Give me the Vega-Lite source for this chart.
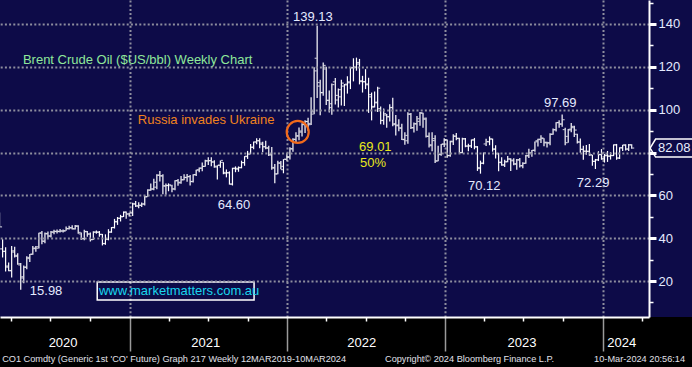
{
  "$schema": "https://vega.github.io/schema/vega-lite/v6.json",
  "width": 649,
  "height": 317,
  "autosize": {"type": "none"},
  "padding": {"left": 0, "top": 0, "right": 43, "bottom": 50},
  "background": "#000000",
  "config": {
    "view": {"fill": "#0d0b48", "stroke": null},
    "font": "Liberation Sans",
    "text": {"font": "Liberation Sans"}
  },
  "resolve": {"axis": {"y": "independent"}},
  "datasets": {
    "ohlc": [
      {"d":"2020-03-06","o":50.5,"h":52.0,"l":45.2,"c":45.3},
      {"d":"2020-03-13","o":35.0,"h":39.5,"l":31.0,"c":33.9},
      {"d":"2020-03-20","o":33.8,"h":35.8,"l":24.5,"c":27.0},
      {"d":"2020-03-27","o":26.5,"h":28.6,"l":24.6,"c":24.9},
      {"d":"2020-04-03","o":24.8,"h":36.3,"l":21.65,"c":34.1},
      {"d":"2020-04-10","o":33.5,"h":36.0,"l":31.0,"c":31.5},
      {"d":"2020-04-17","o":32.0,"h":33.0,"l":27.6,"c":28.1},
      {"d":"2020-04-24","o":27.5,"h":28.4,"l":15.98,"c":21.4},
      {"d":"2020-05-01","o":22.0,"h":27.2,"l":19.0,"c":26.4},
      {"d":"2020-05-08","o":26.5,"h":31.6,"l":25.5,"c":31.0},
      {"d":"2020-05-15","o":30.5,"h":32.6,"l":28.9,"c":32.5},
      {"d":"2020-05-22","o":32.5,"h":36.4,"l":32.3,"c":35.1},
      {"d":"2020-05-29","o":35.4,"h":36.4,"l":33.7,"c":35.3},
      {"d":"2020-06-05","o":36.0,"h":42.5,"l":35.2,"c":42.3},
      {"d":"2020-06-12","o":42.5,"h":43.4,"l":37.2,"c":38.7},
      {"d":"2020-06-19","o":38.5,"h":42.6,"l":37.6,"c":42.2},
      {"d":"2020-06-26","o":42.0,"h":43.1,"l":40.0,"c":41.0},
      {"d":"2020-07-03","o":41.0,"h":43.3,"l":40.3,"c":42.8},
      {"d":"2020-07-10","o":42.9,"h":43.9,"l":41.8,"c":43.2},
      {"d":"2020-07-17","o":43.1,"h":44.0,"l":42.2,"c":43.1},
      {"d":"2020-07-24","o":43.2,"h":44.3,"l":42.7,"c":43.3},
      {"d":"2020-07-31","o":43.4,"h":44.0,"l":42.6,"c":43.3},
      {"d":"2020-08-07","o":43.5,"h":45.4,"l":43.5,"c":44.4},
      {"d":"2020-08-14","o":44.5,"h":45.8,"l":44.1,"c":44.8},
      {"d":"2020-08-21","o":44.9,"h":46.0,"l":44.0,"c":44.35},
      {"d":"2020-08-28","o":44.4,"h":46.2,"l":44.0,"c":45.8},
      {"d":"2020-09-04","o":45.5,"h":46.0,"l":42.1,"c":42.7},
      {"d":"2020-09-11","o":42.0,"h":42.6,"l":39.2,"c":39.8},
      {"d":"2020-09-18","o":39.8,"h":43.9,"l":39.0,"c":43.15},
      {"d":"2020-09-25","o":43.0,"h":43.3,"l":40.7,"c":41.9},
      {"d":"2020-10-02","o":42.0,"h":42.7,"l":38.4,"c":39.3},
      {"d":"2020-10-09","o":39.4,"h":43.2,"l":39.2,"c":42.85},
      {"d":"2020-10-16","o":42.8,"h":43.6,"l":42.1,"c":42.9},
      {"d":"2020-10-23","o":42.7,"h":43.3,"l":40.7,"c":41.8},
      {"d":"2020-10-30","o":41.7,"h":42.0,"l":36.6,"c":37.5},
      {"d":"2020-11-06","o":37.5,"h":41.8,"l":36.9,"c":39.45},
      {"d":"2020-11-13","o":39.5,"h":44.2,"l":39.0,"c":42.8},
      {"d":"2020-11-20","o":42.9,"h":45.2,"l":42.5,"c":44.96},
      {"d":"2020-11-27","o":45.0,"h":49.0,"l":44.5,"c":47.8},
      {"d":"2020-12-04","o":47.6,"h":49.9,"l":46.2,"c":49.25},
      {"d":"2020-12-11","o":49.3,"h":50.9,"l":47.8,"c":50.0},
      {"d":"2020-12-18","o":50.1,"h":52.5,"l":49.9,"c":52.26},
      {"d":"2020-12-24","o":52.0,"h":52.5,"l":49.1,"c":51.3},
      {"d":"2020-12-31","o":51.3,"h":51.9,"l":50.1,"c":51.8},
      {"d":"2021-01-08","o":51.8,"h":56.5,"l":50.4,"c":55.99},
      {"d":"2021-01-15","o":56.0,"h":57.4,"l":54.5,"c":55.1},
      {"d":"2021-01-22","o":55.0,"h":56.8,"l":54.0,"c":55.4},
      {"d":"2021-01-29","o":55.3,"h":56.6,"l":54.6,"c":55.9},
      {"d":"2021-02-05","o":56.0,"h":59.8,"l":55.3,"c":59.3},
      {"d":"2021-02-12","o":59.4,"h":62.8,"l":59.3,"c":62.4},
      {"d":"2021-02-19","o":62.5,"h":65.5,"l":62.1,"c":62.9},
      {"d":"2021-02-26","o":63.0,"h":67.7,"l":62.4,"c":66.1},
      {"d":"2021-03-05","o":63.8,"h":69.8,"l":62.9,"c":69.4},
      {"d":"2021-03-12","o":69.4,"h":71.4,"l":66.5,"c":69.2},
      {"d":"2021-03-19","o":69.0,"h":69.9,"l":60.5,"c":64.5},
      {"d":"2021-03-26","o":64.3,"h":65.5,"l":60.3,"c":64.6},
      {"d":"2021-04-01","o":64.6,"h":65.6,"l":61.9,"c":64.9},
      {"d":"2021-04-09","o":64.5,"h":64.9,"l":61.5,"c":62.95},
      {"d":"2021-04-16","o":63.0,"h":67.1,"l":62.4,"c":66.8},
      {"d":"2021-04-23","o":66.9,"h":67.6,"l":64.5,"c":66.1},
      {"d":"2021-04-30","o":65.8,"h":69.0,"l":65.4,"c":67.25},
      {"d":"2021-05-07","o":67.3,"h":69.8,"l":67.0,"c":68.3},
      {"d":"2021-05-14","o":68.4,"h":70.0,"l":66.4,"c":68.7},
      {"d":"2021-05-21","o":68.8,"h":69.5,"l":64.6,"c":66.4},
      {"d":"2021-05-28","o":66.5,"h":69.8,"l":66.0,"c":69.6},
      {"d":"2021-06-04","o":69.7,"h":72.0,"l":69.0,"c":71.9},
      {"d":"2021-06-11","o":71.8,"h":73.0,"l":70.8,"c":72.7},
      {"d":"2021-06-18","o":72.7,"h":75.3,"l":71.2,"c":73.5},
      {"d":"2021-06-25","o":73.5,"h":76.6,"l":73.3,"c":76.2},
      {"d":"2021-07-02","o":76.0,"h":77.8,"l":74.2,"c":76.2},
      {"d":"2021-07-09","o":76.2,"h":77.8,"l":73.6,"c":75.55},
      {"d":"2021-07-16","o":75.6,"h":76.4,"l":72.9,"c":73.6},
      {"d":"2021-07-23","o":73.2,"h":74.1,"l":67.4,"c":74.1},
      {"d":"2021-07-30","o":74.0,"h":76.3,"l":72.9,"c":76.3},
      {"d":"2021-08-06","o":75.4,"h":75.5,"l":69.9,"c":70.7},
      {"d":"2021-08-13","o":70.2,"h":72.1,"l":68.4,"c":70.6},
      {"d":"2021-08-20","o":70.5,"h":71.2,"l":65.0,"c":65.2},
      {"d":"2021-08-27","o":65.3,"h":72.9,"l":64.6,"c":72.7},
      {"d":"2021-09-03","o":72.5,"h":73.5,"l":70.8,"c":72.6},
      {"d":"2021-09-10","o":72.2,"h":73.5,"l":71.0,"c":72.9},
      {"d":"2021-09-17","o":73.0,"h":76.2,"l":72.6,"c":75.3},
      {"d":"2021-09-24","o":75.3,"h":78.3,"l":73.8,"c":78.1},
      {"d":"2021-10-01","o":78.3,"h":80.75,"l":77.0,"c":79.3},
      {"d":"2021-10-08","o":79.3,"h":84.0,"l":79.2,"c":82.4},
      {"d":"2021-10-15","o":82.5,"h":85.1,"l":81.5,"c":84.9},
      {"d":"2021-10-22","o":84.9,"h":86.7,"l":83.8,"c":85.5},
      {"d":"2021-10-29","o":85.5,"h":86.7,"l":82.0,"c":84.4},
      {"d":"2021-11-05","o":83.8,"h":85.0,"l":80.1,"c":82.7},
      {"d":"2021-11-12","o":82.7,"h":85.5,"l":81.5,"c":82.2},
      {"d":"2021-11-19","o":82.0,"h":83.1,"l":78.4,"c":78.9},
      {"d":"2021-11-26","o":79.0,"h":82.6,"l":72.0,"c":72.7},
      {"d":"2021-12-03","o":73.0,"h":74.6,"l":65.7,"c":69.9},
      {"d":"2021-12-10","o":70.1,"h":76.1,"l":69.9,"c":75.15},
      {"d":"2021-12-17","o":75.0,"h":76.0,"l":72.2,"c":73.5},
      {"d":"2021-12-23","o":72.0,"h":76.9,"l":70.3,"c":76.85},
      {"d":"2021-12-31","o":76.8,"h":79.8,"l":76.2,"c":77.8},
      {"d":"2022-01-07","o":78.0,"h":82.4,"l":76.7,"c":81.75},
      {"d":"2022-01-14","o":81.7,"h":86.7,"l":80.4,"c":86.06},
      {"d":"2022-01-21","o":86.2,"h":89.5,"l":84.8,"c":87.9},
      {"d":"2022-01-28","o":87.6,"h":91.7,"l":85.7,"c":90.03},
      {"d":"2022-02-04","o":89.5,"h":93.7,"l":87.5,"c":93.27},
      {"d":"2022-02-11","o":93.0,"h":95.0,"l":89.1,"c":94.44},
      {"d":"2022-02-18","o":94.5,"h":96.2,"l":90.1,"c":93.54},
      {"d":"2022-02-25","o":93.0,"h":105.8,"l":92.8,"c":97.93},
      {"d":"2022-03-04","o":99.0,"h":119.8,"l":97.9,"c":118.11},
      {"d":"2022-03-11","o":124.0,"h":139.13,"l":105.5,"c":112.67},
      {"d":"2022-03-18","o":111.0,"h":114.0,"l":97.4,"c":107.93},
      {"d":"2022-03-25","o":108.0,"h":122.0,"l":106.5,"c":120.65},
      {"d":"2022-04-01","o":119.0,"h":120.0,"l":102.2,"c":104.39},
      {"d":"2022-04-08","o":104.3,"h":108.9,"l":98.7,"c":102.78},
      {"d":"2022-04-14","o":101.0,"h":112.2,"l":97.6,"c":111.7},
      {"d":"2022-04-22","o":113.0,"h":114.8,"l":102.4,"c":106.65},
      {"d":"2022-04-29","o":104.5,"h":109.9,"l":101.0,"c":109.34},
      {"d":"2022-05-06","o":106.0,"h":114.0,"l":102.0,"c":112.39},
      {"d":"2022-05-13","o":111.0,"h":112.0,"l":101.7,"c":111.55},
      {"d":"2022-05-20","o":111.9,"h":115.6,"l":107.5,"c":112.55},
      {"d":"2022-05-27","o":113.0,"h":119.9,"l":109.6,"c":119.43},
      {"d":"2022-06-03","o":119.7,"h":124.0,"l":113.2,"c":119.72},
      {"d":"2022-06-10","o":119.9,"h":124.3,"l":118.2,"c":122.01},
      {"d":"2022-06-17","o":121.3,"h":123.7,"l":111.8,"c":113.12},
      {"d":"2022-06-24","o":113.5,"h":115.8,"l":108.0,"c":113.12},
      {"d":"2022-07-01","o":113.0,"h":118.9,"l":109.6,"c":111.63},
      {"d":"2022-07-08","o":112.0,"h":114.9,"l":98.5,"c":107.02},
      {"d":"2022-07-15","o":106.0,"h":108.0,"l":95.0,"c":101.16},
      {"d":"2022-07-22","o":101.5,"h":108.5,"l":101.0,"c":103.2},
      {"d":"2022-07-29","o":103.5,"h":110.7,"l":98.9,"c":110.01},
      {"d":"2022-08-05","o":100.5,"h":101.5,"l":93.2,"c":94.92},
      {"d":"2022-08-12","o":95.0,"h":100.5,"l":93.0,"c":98.15},
      {"d":"2022-08-19","o":97.5,"h":98.0,"l":91.5,"c":96.72},
      {"d":"2022-08-26","o":96.7,"h":102.5,"l":94.5,"c":100.99},
      {"d":"2022-09-02","o":101.0,"h":105.6,"l":92.2,"c":93.02},
      {"d":"2022-09-09","o":93.5,"h":97.5,"l":87.9,"c":92.84},
      {"d":"2022-09-16","o":92.5,"h":95.5,"l":89.9,"c":91.35},
      {"d":"2022-09-23","o":91.5,"h":93.4,"l":85.8,"c":86.15},
      {"d":"2022-09-30","o":86.0,"h":89.5,"l":83.6,"c":87.96},
      {"d":"2022-10-07","o":85.5,"h":98.8,"l":84.1,"c":97.92},
      {"d":"2022-10-14","o":97.9,"h":98.5,"l":91.0,"c":91.63},
      {"d":"2022-10-21","o":91.5,"h":94.0,"l":89.3,"c":93.5},
      {"d":"2022-10-28","o":93.3,"h":97.1,"l":90.2,"c":95.77},
      {"d":"2022-11-04","o":94.5,"h":98.9,"l":92.5,"c":98.57},
      {"d":"2022-11-11","o":98.3,"h":98.6,"l":91.6,"c":95.99},
      {"d":"2022-11-18","o":95.5,"h":96.4,"l":87.0,"c":87.62},
      {"d":"2022-11-25","o":87.5,"h":89.3,"l":82.3,"c":83.63},
      {"d":"2022-12-02","o":83.2,"h":89.4,"l":80.6,"c":85.57},
      {"d":"2022-12-09","o":86.5,"h":88.0,"l":75.1,"c":76.1},
      {"d":"2022-12-16","o":76.0,"h":83.2,"l":75.9,"c":79.04},
      {"d":"2022-12-23","o":79.2,"h":84.0,"l":78.5,"c":83.92},
      {"d":"2022-12-30","o":83.9,"h":86.7,"l":82.6,"c":85.91},
      {"d":"2023-01-06","o":85.9,"h":86.1,"l":77.6,"c":78.57},
      {"d":"2023-01-13","o":78.6,"h":85.5,"l":78.0,"c":85.28},
      {"d":"2023-01-20","o":85.0,"h":88.5,"l":83.5,"c":87.63},
      {"d":"2023-01-27","o":87.6,"h":89.1,"l":85.7,"c":86.66},
      {"d":"2023-02-03","o":86.5,"h":86.9,"l":79.9,"c":79.94},
      {"d":"2023-02-10","o":80.0,"h":86.9,"l":79.6,"c":86.39},
      {"d":"2023-02-17","o":86.4,"h":86.8,"l":82.5,"c":83.0},
      {"d":"2023-02-24","o":83.0,"h":84.1,"l":80.6,"c":83.16},
      {"d":"2023-03-03","o":83.0,"h":86.1,"l":82.1,"c":85.83},
      {"d":"2023-03-10","o":85.9,"h":86.8,"l":81.5,"c":82.78},
      {"d":"2023-03-17","o":82.5,"h":83.0,"l":71.4,"c":72.97},
      {"d":"2023-03-24","o":72.5,"h":76.2,"l":70.12,"c":74.99},
      {"d":"2023-03-31","o":75.0,"h":80.0,"l":74.5,"c":79.77},
      {"d":"2023-04-06","o":84.0,"h":86.4,"l":83.0,"c":85.12},
      {"d":"2023-04-14","o":85.0,"h":87.5,"l":83.4,"c":86.31},
      {"d":"2023-04-21","o":86.3,"h":86.5,"l":80.4,"c":81.66},
      {"d":"2023-04-28","o":81.5,"h":83.4,"l":77.2,"c":79.54},
      {"d":"2023-05-05","o":79.4,"h":79.9,"l":71.3,"c":75.3},
      {"d":"2023-05-12","o":75.5,"h":77.8,"l":73.8,"c":74.17},
      {"d":"2023-05-19","o":74.2,"h":76.6,"l":73.2,"c":75.58},
      {"d":"2023-05-26","o":75.8,"h":78.4,"l":75.5,"c":76.95},
      {"d":"2023-06-02","o":77.0,"h":77.3,"l":71.4,"c":76.13},
      {"d":"2023-06-09","o":76.5,"h":77.3,"l":74.1,"c":74.79},
      {"d":"2023-06-16","o":74.5,"h":77.0,"l":71.9,"c":76.61},
      {"d":"2023-06-23","o":76.5,"h":77.4,"l":73.0,"c":73.85},
      {"d":"2023-06-30","o":73.8,"h":75.4,"l":72.6,"c":74.9},
      {"d":"2023-07-07","o":75.0,"h":78.8,"l":74.7,"c":78.47},
      {"d":"2023-07-14","o":78.5,"h":81.8,"l":77.4,"c":79.87},
      {"d":"2023-07-21","o":79.7,"h":81.2,"l":78.0,"c":81.07},
      {"d":"2023-07-28","o":81.0,"h":85.1,"l":80.4,"c":84.99},
      {"d":"2023-08-04","o":85.5,"h":86.4,"l":82.8,"c":86.24},
      {"d":"2023-08-11","o":86.0,"h":88.1,"l":84.4,"c":86.81},
      {"d":"2023-08-18","o":86.5,"h":86.7,"l":82.9,"c":84.8},
      {"d":"2023-08-25","o":84.5,"h":85.0,"l":82.3,"c":84.48},
      {"d":"2023-09-01","o":84.5,"h":89.0,"l":83.4,"c":88.55},
      {"d":"2023-09-08","o":88.5,"h":91.2,"l":88.3,"c":90.65},
      {"d":"2023-09-15","o":90.6,"h":94.1,"l":89.8,"c":93.93},
      {"d":"2023-09-22","o":94.0,"h":95.0,"l":91.5,"c":93.27},
      {"d":"2023-09-29","o":93.3,"h":97.69,"l":92.0,"c":95.31},
      {"d":"2023-10-06","o":90.7,"h":91.5,"l":83.4,"c":84.58},
      {"d":"2023-10-13","o":87.5,"h":91.0,"l":84.5,"c":90.89},
      {"d":"2023-10-20","o":90.5,"h":93.8,"l":89.5,"c":92.16},
      {"d":"2023-10-27","o":91.6,"h":92.5,"l":87.2,"c":90.48},
      {"d":"2023-11-03","o":88.5,"h":88.7,"l":84.2,"c":84.89},
      {"d":"2023-11-10","o":84.9,"h":86.5,"l":79.9,"c":81.43},
      {"d":"2023-11-17","o":81.5,"h":83.1,"l":76.6,"c":80.61},
      {"d":"2023-11-24","o":80.6,"h":83.5,"l":79.0,"c":80.58},
      {"d":"2023-12-01","o":80.5,"h":84.0,"l":78.5,"c":78.88},
      {"d":"2023-12-08","o":78.9,"h":79.0,"l":73.8,"c":75.84},
      {"d":"2023-12-15","o":75.9,"h":77.0,"l":72.29,"c":76.55},
      {"d":"2023-12-22","o":76.6,"h":80.6,"l":76.0,"c":79.07},
      {"d":"2023-12-29","o":79.0,"h":81.6,"l":76.6,"c":77.04},
      {"d":"2024-01-05","o":77.0,"h":79.3,"l":75.3,"c":78.76},
      {"d":"2024-01-12","o":78.5,"h":80.7,"l":75.6,"c":78.29},
      {"d":"2024-01-19","o":78.3,"h":80.1,"l":76.7,"c":78.56},
      {"d":"2024-01-26","o":78.6,"h":83.8,"l":78.3,"c":83.55},
      {"d":"2024-02-02","o":83.6,"h":84.0,"l":76.6,"c":77.33},
      {"d":"2024-02-09","o":77.5,"h":82.4,"l":77.0,"c":82.19},
      {"d":"2024-02-16","o":82.2,"h":83.6,"l":80.7,"c":83.47},
      {"d":"2024-02-23","o":83.5,"h":83.9,"l":80.9,"c":81.62},
      {"d":"2024-03-01","o":81.6,"h":84.0,"l":80.7,"c":83.55},
      {"d":"2024-03-08","o":83.6,"h":83.8,"l":81.7,"c":82.08}
    ],
    "notes": [
      {"t":"Brent Crude Oil ($US/bbl) Weekly Chart","d":"2020-04-29","v":123.2,"k":"title"},
      {"t":"Russia invades Ukraine","d":"2021-01-20","v":95.2,"k":"event"},
      {"t":"139.13","d":"2022-01-14","v":143.3,"k":"price"},
      {"t":"97.69","d":"2023-08-18","v":103.1,"k":"price"},
      {"t":"64.60","d":"2021-07-24","v":55.5,"k":"price"},
      {"t":"70.12","d":"2023-02-23","v":64.4,"k":"price"},
      {"t":"72.29","d":"2023-11-02","v":65.8,"k":"price"},
      {"t":"15.98","d":"2020-05-15","v":15.3,"k":"price"},
      {"t":"69.01","d":"2022-06-16","v":82.6,"k":"fib"},
      {"t":"50%","d":"2022-06-18","v":75.1,"k":"fib"},
      {"t":"www.marketmatters.com.au","d":"2020-10-22","v":15.3,"k":"site"}
    ],
    "years": [
      {"t":"2020","d":"2020-07-31"},
      {"t":"2021","d":"2021-06-26"},
      {"t":"2022","d":"2022-06-22"},
      {"t":"2023","d":"2023-06-28"},
      {"t":"2024","d":"2024-02-14"}
    ],
    "footer": [
      {"t":"CO1 Comdty (Generic 1st 'CO' Future) Graph 217  Weekly 12MAR2019-10MAR2024","d":"2020-03-12"},
      {"t":"Copyright© 2024 Bloomberg Finance L.P.","d":"2022-08-15"},
      {"t":"10-Mar-2024 20:56:14","d":"2023-12-12"}
    ]
  },
  "layer": [
    {
      "data": {"values": [{}]},
      "mark": {"type": "rect", "color": "#0d0b48"},
      "encoding": {
        "x": {"datum": {"year": 2024, "month": 4, "date": 17, "utc": true}, "type": "temporal",
          "scale": {"domain": [{"year": 2020, "month": 3, "date": 7, "utc": true}, {"year": 2024, "month": 4, "date": 17, "utc": true}], "nice": false},
          "axis": {
            "title": null,
            "values": [
              {"year":2020,"month":4,"date":1,"utc":true},{"year":2020,"month":7,"date":1,"utc":true},{"year":2020,"month":10,"date":1,"utc":true},
              {"year":2021,"month":1,"date":1,"utc":true},{"year":2021,"month":4,"date":1,"utc":true},{"year":2021,"month":7,"date":1,"utc":true},{"year":2021,"month":10,"date":1,"utc":true},
              {"year":2022,"month":1,"date":1,"utc":true},{"year":2022,"month":4,"date":1,"utc":true},{"year":2022,"month":7,"date":1,"utc":true},{"year":2022,"month":10,"date":1,"utc":true},
              {"year":2023,"month":1,"date":1,"utc":true},{"year":2023,"month":4,"date":1,"utc":true},{"year":2023,"month":7,"date":1,"utc":true},{"year":2023,"month":10,"date":1,"utc":true},
              {"year":2024,"month":1,"date":1,"utc":true},{"year":2024,"month":4,"date":1,"utc":true}
            ],
            "labels": false,
            "domainColor": "#ffffff",
            "domainWidth": 2,
            "tickColor": {"condition": {"test": "utcmonth(datum.value) === 0", "value": "#9a9a9a"}, "value": "#ffffff"},
            "tickSize": {"condition": {"test": "utcmonth(datum.value) === 0", "value": 34}, "value": 4},
            "tickWidth": 1.5,
            "grid": true,
            "gridColor": "#8e8e9e",
            "gridDash": [2, 2.2],
            "gridWidth": 2,
            "gridOpacity": {"condition": {"test": "utcmonth(datum.value) === 0", "value": 1}, "value": 0}
          }
        },
        "x2": {"datum": {"year": 2024, "month": 9, "date": 1, "utc": true}},
        "y": {"datum": 3.2, "type": "quantitative",
          "scale": {"domain": [3.2, 151.2], "nice": false, "zero": false},
          "axis": {
            "orient": "right",
            "title": null,
            "zindex": 1,
            "values": [20, 40, 60, 80, 100, 120, 140],
            "labelExpr": "datum.value === 80 ? '' : datum.label",
            "labelColor": "#e4eaff",
            "labelFont": "Liberation Sans",
            "labelFontSize": 13,
            "labelPadding": 2,
            "domainColor": "#ffffff",
            "domainWidth": 2,
            "tickColor": "#ffffff",
            "tickSize": 7,
            "tickWidth": 3,
            "grid": true,
            "gridColor": "#8e8e9e",
            "gridDash": [2, 2.2],
            "gridWidth": 2
          }
        },
        "y2": {"datum": 151.2}
      }
    },
    {
      "data": {"values": [{}]},
      "mark": {"type": "rect", "fill": null, "stroke": "#ffffff", "strokeWidth": 1.5},
      "encoding": {
        "x": {"datum": {"year": 2020, "month": 10, "date": 18, "utc": true}, "type": "temporal"},
        "x2": {"datum": {"year": 2021, "month": 10, "date": 16, "utc": true}},
        "y": {"datum": 19.5, "type": "quantitative",
          "axis": {
            "orient": "right",
            "title": null,
            "zindex": 1,
            "values": [10, 30, 50, 70, 90, 110, 130, 150],
            "labels": false,
            "domain": false,
            "grid": false,
            "tickColor": "#ffffff",
            "tickSize": 4,
            "tickWidth": 1.5
          }
        },
        "y2": {"datum": 11.1}
      }
    },
    {
      "data": {"name": "ohlc"},
      "mark": {"type": "rule", "color": "#ffffff", "strokeWidth": 1.2},
      "encoding": {
        "x": {"field": "d", "type": "temporal"},
        "y": {"field": "l", "type": "quantitative", "axis": null},
        "y2": {"field": "h"}
      }
    },
    {
      "data": {"name": "ohlc"},
      "mark": {"type": "tick", "orient": "horizontal", "color": "#ffffff", "size": 2, "thickness": 1.2, "xOffset": -1.5},
      "encoding": {
        "x": {"field": "d", "type": "temporal"},
        "y": {"field": "o", "type": "quantitative", "axis": null}
      }
    },
    {
      "data": {"name": "ohlc"},
      "mark": {"type": "tick", "orient": "horizontal", "color": "#ffffff", "size": 2, "thickness": 1.2, "xOffset": 1.5},
      "encoding": {
        "x": {"field": "d", "type": "temporal"},
        "y": {"field": "c", "type": "quantitative", "axis": null}
      }
    },
    {
      "data": {"values": [{}]},
      "mark": {"type": "point", "shape": "circle", "filled": false, "stroke": "#f26a1b", "strokeWidth": 2.2, "size": 484, "opacity": 1},
      "encoding": {
        "x": {"datum": {"year": 2022, "month": 1, "date": 25, "utc": true}, "type": "temporal"},
        "y": {"datum": 89.6, "type": "quantitative", "axis": null}
      }
    },
    {
      "data": {"name": "notes"},
      "mark": {"type": "text", "align": "left", "baseline": "middle", "fontSize": 13, "font": "Liberation Sans"},
      "encoding": {
        "x": {"field": "d", "type": "temporal"},
        "y": {"field": "v", "type": "quantitative", "axis": null},
        "text": {"field": "t"},
        "color": {"field": "k", "type": "nominal", "legend": null,
          "scale": {"domain": ["title", "event", "price", "fib", "site"], "range": ["#8fe89a", "#f0821e", "#e4eaff", "#e8e81c", "#1ad6ee"]}}
      }
    },
    {
      "data": {"name": "years"},
      "mark": {"type": "text", "align": "center", "baseline": "middle", "fontSize": 13, "color": "#ffffff", "font": "Liberation Sans"},
      "encoding": {
        "x": {"field": "d", "type": "temporal"},
        "y": {"datum": -8.9, "type": "quantitative", "axis": null},
        "text": {"field": "t"}
      }
    },
    {
      "data": {"name": "footer"},
      "mark": {"type": "text", "align": "left", "baseline": "middle", "fontSize": 9.2, "color": "#e0e0ea", "font": "Liberation Sans"},
      "encoding": {
        "x": {"field": "d", "type": "temporal"},
        "y": {"datum": -16.4, "type": "quantitative", "axis": null},
        "text": {"field": "t"}
      }
    },
    {
      "data": {"values": [{}]},
      "mark": {"type": "point", "shape": "M0.05,0 L0.3,-0.41 L2.1,-0.41 L2.1,0.41 L0.3,0.41 Z", "filled": true, "fill": "#0d0b48", "stroke": "#ffffff", "strokeWidth": 1.5, "size": 1936, "opacity": 1},
      "encoding": {
        "x": {"datum": {"year": 2024, "month": 4, "date": 17, "utc": true}, "type": "temporal"},
        "y": {"datum": 82.08, "type": "quantitative", "axis": null}
      }
    },
    {
      "data": {"values": [{}]},
      "mark": {"type": "text", "align": "left", "baseline": "middle", "dx": 9, "fontSize": 13, "color": "#e8eeff", "font": "Liberation Sans"},
      "encoding": {
        "x": {"datum": {"year": 2024, "month": 4, "date": 17, "utc": true}, "type": "temporal"},
        "y": {"datum": 82.08, "type": "quantitative", "axis": null},
        "text": {"value": "82.08"}
      }
    }
  ]
}
